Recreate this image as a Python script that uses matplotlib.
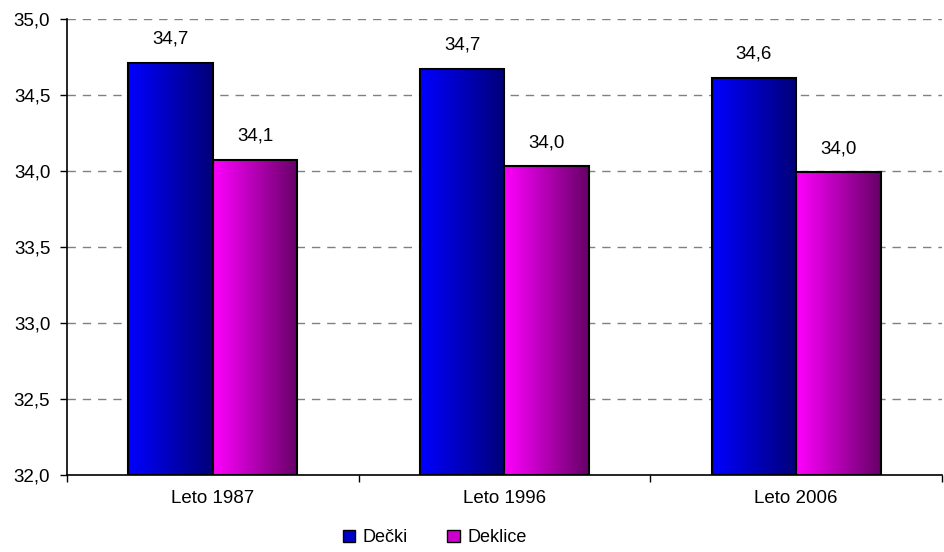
import numpy as np
import matplotlib
matplotlib.use("Agg")
import matplotlib.pyplot as plt
from matplotlib.patches import Rectangle
from matplotlib.colors import LinearSegmentedColormap

plt.rcParams['font.family'] = ['Liberation Sans', 'DejaVu Sans']

categories = ["Leto 1987", "Leto 1996", "Leto 2006"]
decki = [34.71, 34.67, 34.61]
deklice = [34.07, 34.03, 33.99]
series_names = ["Dečki", "Deklice"]

blue_cmap = LinearSegmentedColormap.from_list("blue", ["#0000ff", "#000078"])
pink_cmap = LinearSegmentedColormap.from_list("pink", ["#ff00ff", "#660066"])

fig = plt.figure(figsize=(9.45, 5.52), dpi=100)
ax = fig.add_axes([0.0709, 0.1395, 0.9259, 0.8265])

x = np.arange(len(categories))
w = 0.29
base = 32.0

grad = np.linspace(0, 1, 256).reshape(1, -1)


def gradient_bars(xs, vals, cmap):
    bars = ax.bar(xs, np.array(vals) - base, w, bottom=base, color="none",
                  edgecolor="black", linewidth=1.5, zorder=3)
    for b in bars:
        x0, y0 = b.get_x(), b.get_y()
        img = ax.imshow(grad, cmap=cmap, aspect="auto", zorder=2,
                        extent=[x0, x0 + b.get_width(), y0, y0 + b.get_height()])
        img.set_clip_path(b)
    return bars


b1 = gradient_bars(x - w / 2, decki, blue_cmap)
b2 = gradient_bars(x + w / 2, deklice, pink_cmap)

for bars, vals in ((b1, decki), (b2, deklice)):
    for b, v in zip(bars, vals):
        ax.annotate(f"{v:.1f}".replace(".", ","),
                    (b.get_x() + b.get_width() / 2, v),
                    xytext=(0, 11), textcoords="offset points",
                    ha="center", va="bottom", fontsize=13.5)

ax.set_xlim(-0.5, 2.5)
ax.set_ylim(32.0, 35.0)
ax.set_yticks(np.arange(32.0, 35.01, 0.5))
ax.set_yticklabels([f"{t:.1f}".replace(".", ",") for t in np.arange(32.0, 35.01, 0.5)],
                   fontsize=13.5)
ax.yaxis.grid(True, linestyle=(0, (6, 5)), color="#808080", linewidth=1)
ax.set_axisbelow(True)

ax.set_xticks(x)
ax.set_xticklabels(categories, fontsize=13.5)
ax.tick_params(axis="x", length=0, pad=11)
ax.set_xticks([-0.5, 0.5, 1.5, 2.5], minor=True)
ax.tick_params(axis="x", which="minor", length=5, width=1)
ax.tick_params(axis="y", length=5, width=1, pad=7)

for s in ("top", "right"):
    ax.spines[s].set_visible(False)
for s in ("left", "bottom"):
    ax.spines[s].set_linewidth(1.2)

handles = [Rectangle((0, 0), 1, 1, facecolor="#0000c8", edgecolor="black"),
           Rectangle((0, 0), 1, 1, facecolor="#cc00cc", edgecolor="black")]
fig.legend(handles, series_names, loc="center", bbox_to_anchor=(0.46, 0.026),
           ncol=2, frameon=False, fontsize=13, handlelength=0.7,
           handleheight=0.7, handletextpad=0.4, columnspacing=2.2)

fig.savefig("out.png", dpi=100)
